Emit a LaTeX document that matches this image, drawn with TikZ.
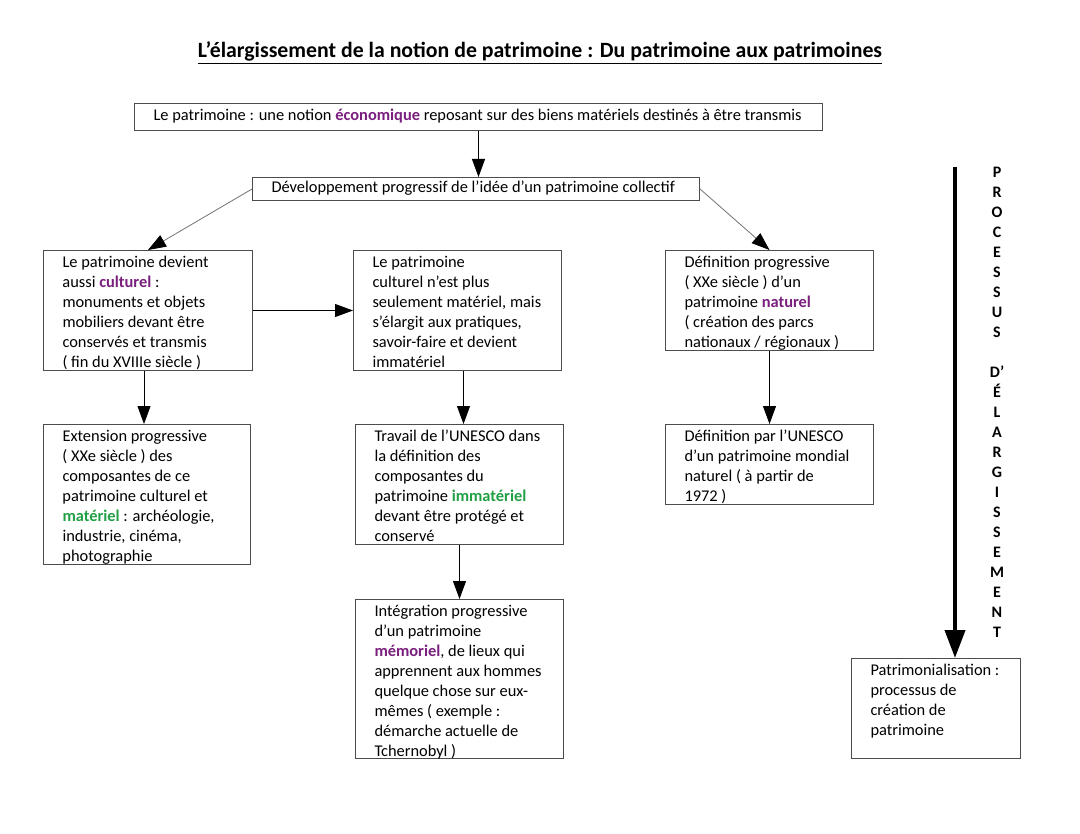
\documentclass[tikz,border=0pt]{standalone}
\usepackage{fontspec}
\setmainfont{Carlito}
\usetikzlibrary{arrows.meta}

\definecolor{violetmot}{HTML}{7A1F7E}
\definecolor{vertmot}{HTML}{22A046}
\newcommand{\mot}[1]{\textbf{\textcolor{violetmot}{#1}}}
\newcommand{\motvert}[1]{\textbf{\textcolor{vertmot}{#1}}}
% contenu d'une boite : [premiere ligne], largeur, hauteur, texte
\newcommand{\boxtext}[4][8.5pt]{\parbox[c][#3][t]{#2}{\leftskip=9.5pt\rule{0pt}{#1}#4\par}}

\begin{document}
\begin{tikzpicture}[x=0.5pt,y=-0.5pt,
    font=\fontsize{8.2}{10}\selectfont,
    box/.style={draw=black!70,line width=.5pt,inner sep=0pt,anchor=north west},
    fleche/.style={-{Triangle[length=9pt,width=6.5pt]},line width=.5pt},
    diag/.style={-{Triangle[length=9pt,width=6.5pt,color=black]},draw=black!55,line width=.4pt},
    ]

\fill[white] (0,0) rectangle (1080,834);
\useasboundingbox (0,0) rectangle (1080,834);

%-------------------------------------------- Title
\node (titre) at (540,53) {\fontsize{10.9}{13}\selectfont\bfseries\underline{L’élargissement de la notion de patrimoine : Du patrimoine aux patrimoines}};

%-------------------------------------------- Top boxes
\node[box] (eco) at (134,103) {\boxtext{344pt}{13.5pt}{Le patrimoine : une notion \mot{économique} reposant sur des biens matériels destinés à être transmis}};
\node[box] (collectif) at (252,177) {\boxtext[7.5pt]{223.5pt}{11.5pt}{Développement progressif de l’idée d’un patrimoine collectif}};

%-------------------------------------------- Second row
\node[box] (culturel) at (43,250) {\boxtext{104.5pt}{60pt}{Le patrimoine devient\\aussi \mot{culturel} :\\monuments et objets\\mobiliers devant être\\conservés et transmis\\( fin du XVIIIe siècle )}};
\node[box] (immat) at (353,250) {\boxtext{104pt}{60pt}{Le patrimoine\\culturel n’est plus\\seulement matériel, mais\\s’élargit aux pratiques,\\savoir-faire et devient\\immatériel}};
\node[box] (naturel) at (665,250) {\boxtext{104pt}{50pt}{Définition progressive\\( XXe siècle ) d’un\\patrimoine \mot{naturel}\\( création des parcs\\nationaux / régionaux )}};

%-------------------------------------------- Third row
\node[box] (materiel) at (43,424) {\boxtext{103.5pt}{70pt}{Extension progressive\\( XXe siècle ) des\\composantes de ce\\patrimoine culturel et\\\motvert{matériel} : archéologie,\\industrie, cinéma,\\photographie}};
\node[box] (unesco) at (355,424) {\boxtext{104pt}{60pt}{Travail de l’UNESCO dans\\la définition des\\composantes du\\patrimoine \motvert{immatériel}\\devant être protégé et\\conservé}};
\node[box] (mondial) at (665,424) {\boxtext{104pt}{40pt}{Définition par l’UNESCO\\d’un patrimoine mondial\\naturel ( à partir de\\1972 )}};

%-------------------------------------------- Bottom
\node[box] (memoriel) at (355,599) {\boxtext{104pt}{79.5pt}{Intégration progressive\\d’un patrimoine\\\mot{mémoriel}, de lieux qui\\apprennent aux hommes\\quelque chose sur eux-\\mêmes ( exemple :\\démarche actuelle de\\Tchernobyl )}};
\node[box] (patrimonialisation) at (851,658) {\boxtext{84.5pt}{50pt}{Patrimonialisation :\\processus de\\création de\\patrimoine}};

%-------------------------------------------- Process arrow
\node[font=\fontsize{8}{10}\selectfont\bfseries,align=center,inner sep=0pt,anchor=north] (processus) at (997,167)
    {P\\R\\O\\C\\E\\S\\S\\U\\S\\[10pt]D’\\É\\L\\A\\R\\G\\I\\S\\S\\E\\M\\E\\N\\T};
\coordinate (haut) at (955,167);
\draw[line width=2pt,-{Triangle[length=14pt,width=10pt]}] (haut) -- (haut |- patrimonialisation.north);

%-------------------------------------------- Connectors
\draw[fleche] (eco.south) -- (eco.south |- collectif.north);
\draw[diag] (collectif.west) -- (culturel.north);
\draw[diag] (collectif.east) -- (naturel.north);
\draw[fleche] (culturel.east) -- (immat.west);
\draw[fleche] ([xshift=-2pt]culturel.south) -- ([xshift=-2pt]culturel.south |- materiel.north);
\draw[fleche] ([xshift=3pt]immat.south) -- ([xshift=3pt]immat.south |- unesco.north);
\draw[fleche] (unesco.south) -- (memoriel.north);
\draw[fleche] (naturel.south) -- (mondial.north);

\end{tikzpicture}
\end{document}
